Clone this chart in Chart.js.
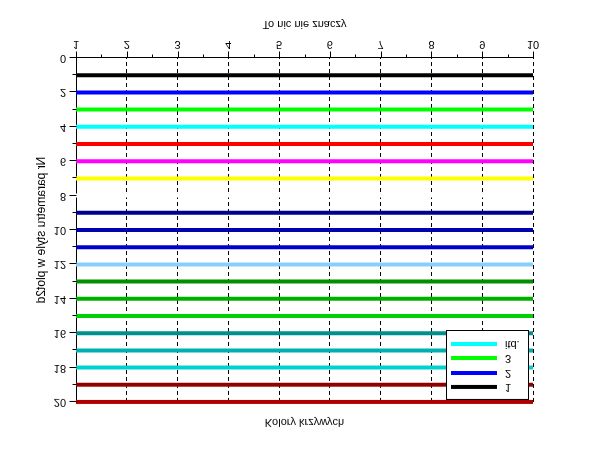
<!DOCTYPE html>
<html>
<head>
<meta charset="utf-8">
<script src="https://cdn.jsdelivr.net/npm/chart.js@4/dist/chart.umd.min.js"></script>
<style>
html,body{margin:0;padding:0;background:#fff;overflow:hidden}
#wrap{width:610px;height:460px;transform:scaleY(-1);transform-origin:50% 50%}
canvas{display:block}
</style>
</head>
<body>
<div id="wrap"><canvas id="c" width="610" height="460"></canvas></div>
<script>
// ---- data ----
const xValues = [1, 2, 3, 4, 5, 6, 7, 8, 9, 10];
const xTickLabels = ['1', '2', '3', '4', '5', '6', '7', '8', '9', '10'];
const yTickValues = [0, 2, 4, 6, 8, 10, 12, 14, 16, 18, 20];
const yTickLabels = ['0', '2', '4', '6', '8', '10', '12', '14', '16', '18', '20'];
const styleNumbers = [1, 2, 3, 4, 5, 6, 7, 8, 9, 10, 11, 12, 13, 14, 15, 16, 17, 18, 19, 20];
const curveLevels = [1, 2, 3, 4, 5, 6, 7, 8, 9, 10, 11, 12, 13, 14, 15, 16, 17, 18, 19, 20];
const curveColors = [
  '#000000', '#0000ff', '#00ff00', '#00ffff', '#ff0000', '#ff00ff', '#ffff00', '#ffffff',
  '#00008f', '#0000b0', '#0000d1', '#87cfff', '#008f00', '#00b000', '#00d100',
  '#008f8f', '#00b0b0', '#00d1d1', '#8f0000', '#b00000'
];
const legendLabels = ['1', '2', '3', 'itd.'];
const legendColors = ['#000000', '#0000ff', '#00ff00', '#00ffff'];
const chartTitle = 'Kolory krzywych';
const xAxisTitle = 'To nic nie znaczy';
const yAxisTitle = 'Nr parametru style w plot2d';

const FONT = {family: "'Liberation Sans', Arial, sans-serif", size: 11, weight: 'normal'};
const YFONT = {family: "'Liberation Sans', Arial, sans-serif", size: 12, weight: 'normal'};

const datasets = styleNumbers.map((s, i) => ({
  label: String(s),
  data: xValues.map(x => ({x: x, y: curveLevels[i]})),
  borderColor: curveColors[i],
  backgroundColor: curveColors[i],
  borderWidth: 4,
  pointRadius: 0,
  fill: false,
  tension: 0,
  clip: false
}));

// minor/major tick marks drawn outward from the axes
const tickMarks = {
  id: 'tickMarks',
  afterDraw(chart) {
    const ctx = chart.ctx, xs = chart.scales.x, ys = chart.scales.y;
    const ca = chart.chartArea;
    ctx.save();
    ctx.strokeStyle = '#000';
    ctx.lineWidth = 1;
    ctx.beginPath();
    const xb = Math.round(ca.bottom) + 0.5;
    xValues.forEach((v, i) => {
      const px = Math.round(xs.getPixelForValue(v)) + 0.5;
      ctx.moveTo(px, xb); ctx.lineTo(px, xb + 6);
      if (i < xValues.length - 1) {
        const mx = Math.round(xs.getPixelForValue((v + xValues[i + 1]) / 2)) + 0.5;
        ctx.moveTo(mx, xb); ctx.lineTo(mx, xb + 3);
      }
    });
    const yl = Math.round(ca.left) + 0.5;
    yTickValues.forEach((v, i) => {
      const py = Math.round(ys.getPixelForValue(v)) + 0.5;
      ctx.moveTo(yl, py); ctx.lineTo(yl - 7, py);
      if (i < yTickValues.length - 1) {
        const my = Math.round(ys.getPixelForValue((v + yTickValues[i + 1]) / 2)) + 0.5;
        ctx.moveTo(yl, my); ctx.lineTo(yl - 4, my);
      }
    });
    ctx.stroke();
    ctx.restore();
  }
};

// boxed legend in the upper right corner of the plot
const boxLegend = {
  id: 'boxLegend',
  afterDraw(chart) {
    const ctx = chart.ctx;
    const bx = 446.5, by = 60.5, bw = 82, bh = 69;
    ctx.save();
    ctx.fillStyle = '#fff';
    ctx.fillRect(bx, by, bw, bh);
    ctx.strokeStyle = '#000';
    ctx.lineWidth = 1;
    ctx.strokeRect(bx, by, bw, bh);
    const rows = [73, 87, 102, 116];
    ctx.font = "11px 'Liberation Sans', Arial, sans-serif";
    ctx.textBaseline = 'middle';
    ctx.textAlign = 'left';
    legendLabels.forEach((lab, i) => {
      ctx.strokeStyle = legendColors[i];
      ctx.lineWidth = 4;
      ctx.beginPath();
      ctx.moveTo(451, rows[i]);
      ctx.lineTo(497, rows[i]);
      ctx.stroke();
      ctx.fillStyle = '#000';
      ctx.fillText(lab, 505, rows[i]);
    });
    ctx.restore();
  }
};

new Chart(document.getElementById('c'), {
  type: 'line',
  data: {datasets: datasets},
  options: {
    responsive: false,
    animation: false,
    events: [],
    layout: {padding: {left: 0, right: 77, top: 0, bottom: 0}},
    plugins: {
      legend: {display: false},
      tooltip: {enabled: false},
      title: {
        display: true, fullSize: false, text: chartTitle, color: '#000', font: FONT,
        padding: {top: 31.4, bottom: 13.4}
      }
    },
    scales: {
      x: {
        type: 'linear', position: 'bottom', min: 1, max: 10,
        ticks: {
          stepSize: 1, padding: 7, color: '#000', font: FONT, maxRotation: 0, autoSkip: false,
          callback: v => { const i = xValues.indexOf(v); return i >= 0 ? xTickLabels[i] : ''; }
        },
        grid: {color: '#000', lineWidth: 1, drawTicks: false},
        border: {display: true, color: '#000', width: 1, dash: [4, 3]},
        title: {display: true, text: xAxisTitle, color: '#000', font: FONT, padding: {top: 0, bottom: 17}},
        afterFit: s => { s.height = 58; }
      },
      y: {
        type: 'linear', position: 'left', min: 0, max: 20,
        ticks: {
          stepSize: 2, padding: 10, color: '#000', font: FONT,
          callback: v => { const i = yTickValues.indexOf(v); return i >= 0 ? yTickLabels[i] : ''; }
        },
        grid: {display: false, drawTicks: false},
        border: {display: true, color: '#000', width: 1},
        title: {display: true, text: yAxisTitle, color: '#000', font: YFONT, padding: {top: 34.5, bottom: 0}},
        afterFit: s => { s.width = 76; }
      }
    }
  },
  plugins: [tickMarks, boxLegend]
});
</script>
</body>
</html>
